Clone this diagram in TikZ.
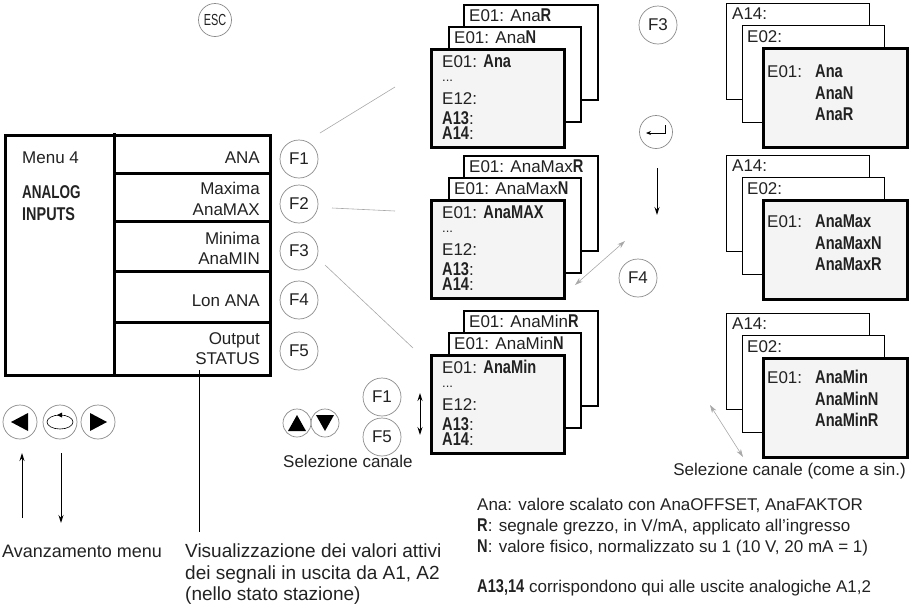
\documentclass[tikz,border=0pt]{standalone}
\usepackage{fontspec}
\setmainfont{Liberation Sans}
\usetikzlibrary{arrows.meta,calc}
\newcommand\myfs{\fontsize{17}{20}\selectfont}
\newcommand\cbf[1]{{\fontsize{18.5}{20}\selectfont\scalebox{0.79}[1]{\bfseries #1}}}
\definecolor{txt}{HTML}{222222}
\definecolor{circ}{HTML}{8A8A8A}
\definecolor{fillg}{HTML}{F4F4F4}
\definecolor{lineg}{HTML}{A8A8A8}
\newcommand\lstack[4]{%
 \node[bk, minimum width=134, minimum height=95] (#1r) at (463,#2) {};
 \node[lbl] (#1rl) at (469,#2+17) {E01: #3\cbf{R}};
 \node[bk, minimum width=132, minimum height=95] (#1n) at (448,#2+22) {};
 \node[lbl] (#1nl) at (454,#2+39) {E01: #3\cbf{N}};
 \node[fr, minimum width=133, minimum height=98] (#1f) at (430,#2+44) {};
 \node[lbl] (#1a) at (442,#2+63) {E01: \cbf{#4}};
 \node[lbl, font=\fontsize{13}{15}\selectfont] (#1b) at (442,#2+77) {...};
 \node[lbl] (#1c) at (442,#2+100) {E12:};
 \node[lbl] (#1d) at (442,#2+120) {\cbf{A13}:};
 \node[lbl] (#1e) at (442,#2+135) {\cbf{A14}:};
}
\newcommand\rstack[6]{%
 \node[bk, line width=1.3, minimum width=143, minimum height=96] (#1a) at (726,#2) {};
 \node[lbl] (#1al) at (732,#2+16) {A14:};
 \node[bk, line width=1.3, minimum width=142, minimum height=97] (#1e) at (742,#2+22) {};
 \node[lbl] (#1el) at (747,#2+39) {E02:};
 \node[fr, minimum width=144, minimum height=99] (#1f) at (762,#2+44) {};
 \node[lbl] (#1x) at (767,#3) {E01:};
 \node[lbl] (#1y) at (815,#3) {\cbf{#4}};
 \node[lbl] (#1z) at (815,#3+22) {\cbf{#5}};
 \node[lbl] (#1w) at (815,#3+43) {\cbf{#6}};
}
\begin{document}
\begin{tikzpicture}[x=1pt,y=-1pt,
 lbl/.style={inner sep=0, anchor=base west, font=\myfs, text=txt},
 lblr/.style={lbl, anchor=base east},
 fkey/.style={circle, draw=circ, line width=0.7, minimum size=38, inner sep=0, font=\myfs, text=txt},
 navkey/.style={circle, draw=circ, line width=0.7, minimum size=34, inner sep=0},
 selkey/.style={circle, draw=circ, line width=0.7, minimum size=28, inner sep=0},
 bk/.style={draw, line width=1.8, fill=white, anchor=north west, inner sep=0},
 fr/.style={draw, line width=2.8, fill=fillg, anchor=north west, inner sep=0},
 arr/.style={-{Stealth[length=8,width=5]}},
 darr/.style={{Stealth[length=8,width=5]}-{Stealth[length=8,width=5]}},
 thin gray/.style={draw=lineg, line width=0.6}]
\useasboundingbox (0,0) rectangle (914,606);

% ESC
\node[circle, draw=circ, line width=0.7, minimum size=33, inner sep=0, font=\fontsize{16}{18}\selectfont, text=txt] (esc) at (215,20) {\scalebox{0.68}[1]{ESC}};

% menu box
\draw[line width=3] (5,135) rectangle (270,375);
\draw[line width=3] (114,133) -- (114,375);
\foreach \yy in {173,221,271,322} \draw[line width=3] (114,\yy) -- (270,\yy);
\node[lbl] (menu) at (22,163) {Menu 4};
\node[lbl, font=\fontsize{18.5}{20}\selectfont] (an1) at (22,198) {\scalebox{0.73}[1]{\bfseries ANALOG}};
\node[lbl, font=\fontsize{18.5}{20}\selectfont] (an2) at (22,220) {\scalebox{0.78}[1]{\bfseries INPUTS}};
\node[lblr] (mana) at (260,163) {ANA};
\node[lblr] (mmax1) at (260,194) {Maxima};
\node[lblr] (mmax2) at (260,215) {AnaMAX};
\node[lblr] (mmin1) at (260,244) {Minima};
\node[lblr] (mmin2) at (260,264) {AnaMIN};
\node[lblr] (mlon) at (260,306) {Lon ANA};
\node[lblr] (mout1) at (260,344) {Output};
\node[lblr] (mout2) at (260,364) {STATUS};

% F keys
\node[fkey] (f1) at (299,159) {F1};
\node[fkey] (f2) at (299,204) {F2};
\node[fkey] (f3) at (299,251) {F3};
\node[fkey] (f4) at (299,300) {F4};
\node[fkey] (f5) at (299,351) {F5};

% stacks
\lstack{sa}{4}{Ana}{Ana}
\lstack{sm}{155}{AnaMax}{AnaMAX}
\lstack{sn}{310}{AnaMin}{AnaMin}

\rstack{ra}{3}{77}{Ana}{AnaN}{AnaR}
\rstack{rm}{155}{227}{AnaMax}{AnaMaxN}{AnaMaxR}
\rstack{rn}{313}{383}{AnaMin}{AnaMinN}{AnaMinR}

% connectors from F keys to screens
\coordinate (c1a) at (320,133); \coordinate (c1b) at (395,87);
\coordinate (c2a) at (332,208); \coordinate (c2b) at (395,211);
\coordinate (c3a) at (325,265); \coordinate (c3b) at (413,348);
\draw[thin gray] (c1a) -- (c1b);
\draw[thin gray] (c2a) -- (c2b);
\draw[thin gray] (c3a) -- (c3b);

% middle column
\node[fkey] (f3b) at (658,25) {F3};
\node[circle, draw=circ, line width=0.7, minimum size=33, inner sep=0] (ent) at (656,132) {};
\draw[line width=0.9, -{Stealth[length=5,width=4]}] ([shift={(9,-7)}]ent.center) -- ([shift={(9,1)}]ent.center) -- ([shift={(-10,1)}]ent.center);
\coordinate (dwa) at (657,168); \coordinate (dwb) at (657,215);
\draw[line width=0.9, arr] (dwa) -- (dwb);
\node[fkey] (f4b) at (638,278) {F4};
\coordinate (dga) at (625,241); \coordinate (dgb) at (575,285);
\draw[thin gray, darr] (dga) -- (dgb);

% selection keys
\node[selkey] (up) at (297,423) {};
\node[selkey] (dn) at (325,423) {};
\fill ([shift={(0,-8)}]up.center) -- ([shift={(9,8)}]up.center) -- ([shift={(-9,8)}]up.center) -- cycle;
\fill ([shift={(0,8)}]dn.center) -- ([shift={(9,-8)}]dn.center) -- ([shift={(-9,-8)}]dn.center) -- cycle;
\node[fkey] (sf1) at (382,397) {F1};
\node[fkey] (sf5) at (382,437) {F5};
\coordinate (sva) at (420,393); \coordinate (svb) at (420,435);
\draw[line width=0.9, darr] (sva) -- (svb);
\node[lbl] (selc) at (283,467) {Selezione canale};

\coordinate (rda) at (710,405); \coordinate (rdb) at (743,457);
\draw[thin gray, darr] (rda) -- (rdb);
\node[lblr] (selc2) at (906,475) {Selezione canale (come a sin.)};

% nav keys
\node[navkey] (nl) at (20,422) {};
\node[navkey] (nm) at (60,422) {};
\node[navkey] (nr) at (98,422) {};
\fill ([shift={(-9,0)}]nl.center) -- ([shift={(8,-9)}]nl.center) -- ([shift={(8,9)}]nl.center) -- cycle;
\fill ([shift={(9,0)}]nr.center) -- ([shift={(-8,-9)}]nr.center) -- ([shift={(-8,9)}]nr.center) -- cycle;
\draw[line width=0.6] (nm.center) ellipse [x radius=13, y radius=7];
\fill ([shift={(-3,-7)}]nm.center) -- ([shift={(2,-9.5)}]nm.center) -- ([shift={(2,-4.5)}]nm.center) -- cycle;
\coordinate (ua) at (22,518); \coordinate (ub) at (22,453);
\draw[line width=0.9, arr] (ua) -- (ub);
\coordinate (da) at (61,453); \coordinate (db) at (61,523);
\draw[line width=0.9, arr] (da) -- (db);

% bottom texts
\node[lbl, font=\fontsize{18}{21}\selectfont] (avz) at (2,557) {Avanzamento menu};
\node[lbl, font=\fontsize{19}{21}\selectfont] (vis1) at (185,557) {Visualizzazione dei valori attivi};
\node[lbl, font=\fontsize{19}{21}\selectfont] (vis2) at (185,579) {dei segnali in uscita da A1, A2};
\node[lbl, font=\fontsize{19}{21}\selectfont] (vis3) at (185,600) {(nello stato stazione)};
\coordinate (sta) at (199,370); \coordinate (stb) at (199,532);
\draw[line width=0.9] (sta) -- (stb);

\node[lbl] (n1) at (477,510) {Ana: valore scalato con AnaOFFSET, AnaFAKTOR};
\node[lbl] (n2) at (477,531) {\cbf{R}: segnale grezzo, in V/mA, applicato all’ingresso};
\node[lbl] (n3) at (477,552) {\cbf{N}: valore fisico, normalizzato su 1 (10 V, 20 mA = 1)};
\node[lbl] (n4) at (477,592) {\cbf{A13,14} corrispondono qui alle uscite analogiche A1,2};
\end{tikzpicture}
\end{document}
